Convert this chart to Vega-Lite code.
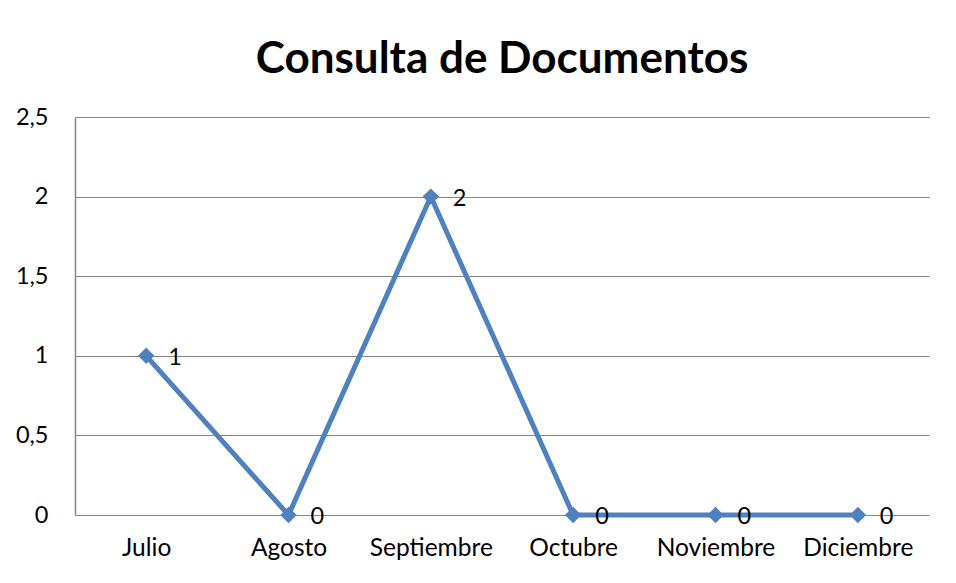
{
  "$schema": "https://vega.github.io/schema/vega-lite/v6.json",
  "autosize": "none",
  "width": 854,
  "height": 398,
  "padding": {"left": 75, "top": 117, "right": 27, "bottom": 68},
  "background": "white",
  "title": {
    "text": "Consulta de Documentos",
    "font": "Lato",
    "fontSize": 44,
    "fontWeight": "bold",
    "color": "black",
    "anchor": "middle",
    "offset": 23
  },
  "data": {
    "values": [
      {"mes": "Julio", "valor": 1},
      {"mes": "Agosto", "valor": 0},
      {"mes": "Septiembre", "valor": 2},
      {"mes": "Octubre", "valor": 0},
      {"mes": "Noviembre", "valor": 0},
      {"mes": "Diciembre", "valor": 0}
    ]
  },
  "encoding": {
    "x": {
      "field": "mes",
      "type": "ordinal",
      "sort": null,
      "scale": {"type": "point", "padding": 0.5},
      "axis": {
        "title": null,
        "labelAngle": 0,
        "labelFont": "Lato",
        "labelFontSize": 24.5,
        "labelColor": "black",
        "labelPadding": 21,
        "ticks": false,
        "domain": false,
        "grid": false
      }
    },
    "y": {
      "field": "valor",
      "type": "quantitative",
      "scale": {"domain": [0, 2.5]},
      "axis": {
        "title": null,
        "values": [0, 0.5, 1, 1.5, 2, 2.5],
        "format": "~g",
        "labelExpr": "replace(datum.label, '.', ',')",
        "labelFont": "Lato",
        "labelFontSize": 23.5,
        "labelColor": "black",
        "labelPadding": 27,
        "ticks": false,
        "domain": true,
        "domainColor": "#868686",
        "domainWidth": 1.5,
        "grid": true,
        "gridColor": "#868686",
        "gridWidth": 1.2
      }
    }
  },
  "layer": [
    {
      "mark": {"type": "line", "color": "#4F81BD", "strokeWidth": 5}
    },
    {
      "mark": {"type": "point", "shape": "diamond", "filled": true, "size": 270, "color": "#4F81BD", "opacity": 1}
    },
    {
      "mark": {"type": "text", "align": "left", "baseline": "middle", "dx": 22, "dy": 2, "font": "Lato", "fontSize": 23.5, "color": "black"},
      "encoding": {"text": {"field": "valor", "type": "quantitative"}}
    }
  ],
  "config": {
    "view": {"stroke": "#868686", "strokeWidth": 0}
  }
}
